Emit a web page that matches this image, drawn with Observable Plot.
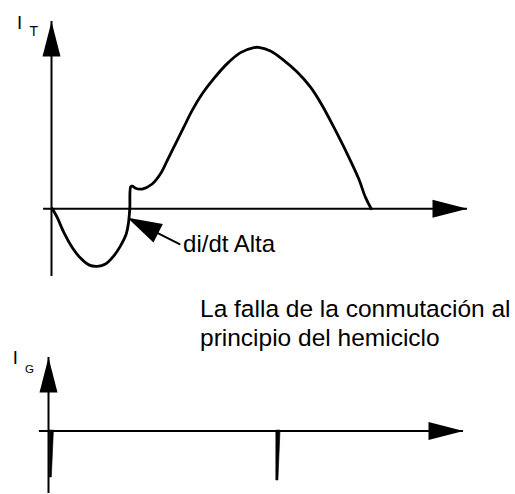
<!DOCTYPE html>
<html>
<head>
<meta charset="utf-8">
<script src="https://cdn.jsdelivr.net/npm/d3@7"></script>
<script src="https://cdn.jsdelivr.net/npm/@observablehq/plot@0.6"></script>
<style>
  html, body { margin: 0; padding: 0; background: #fff; }
  #chart { width: 515px; height: 494px; }
  #chart svg { display: block; }
</style>
</head>
<body>
<div id="chart"></div>
<script>
// Main terminal current I_T over the cycle: time in arbitrary units, current normalised to the peak.
const tT = [0.02, 0.137, 0.296, 0.498, 0.697, 0.897, 1.099, 1.298, 1.498, 1.659, 1.796, 1.851,
            1.882, 1.906, 1.947, 2.019, 2.180, 2.421, 2.620, 2.781, 2.981, 3.180, 3.382, 3.623,
            3.901, 4.224, 4.543, 4.863, 4.976, 5.264, 5.584, 5.906, 6.226, 6.507, 6.786, 7.108,
            7.387, 7.548, 7.685];
const iT = [0, -0.054, -0.147, -0.240, -0.306, -0.348, -0.357, -0.343, -0.292, -0.230, -0.157, -0.087,
            0.002, 0.137, 0.140, 0.127, 0.122, 0.153, 0.216, 0.298, 0.402, 0.505, 0.609, 0.712,
            0.806, 0.899, 0.967, 0.998, 1.000, 0.977, 0.919, 0.847, 0.753, 0.640, 0.505, 0.340,
            0.184, 0.070, 0];

// Gate current I_G: two short negative pulses.
const gateT = [0.03, 5.49];
const gateI = [-0.93, -0.99];

// Axis extents (the far end of each axis carries the arrowhead).
const topTimeAxis = [-0.19, 10];
const topCurrentAxis = [-0.42, 1.16];
const gateTimeAxis = [-0.22, 10];
const gateCurrentAxis = [-1.25, 1.47];

// Text
const topLabel = ["I", "T"];
const gateLabel = ["I", "G"];
const pointerLabel = "di/dt Alta";
const pointerAt = [1.9, -0.065];
const caption = ["La falla de la conmutación al", "principio del hemiciclo"];

const font = "'Liberation Sans', Arial, Helvetica, sans-serif";

// Filled arrowhead: tip at (0,-l), base of half-width w at the origin.
const headShape = (w) => ({
  draw(ctx, l) {
    ctx.moveTo(0, -l);
    ctx.lineTo(w, 0);
    ctx.lineTo(-w, 0);
    ctx.closePath();
  }
});
// Pointer arrow: straight shaft ending in a filled head of length h.
const pointerShape = (w, h) => ({
  draw(ctx, l) {
    ctx.moveTo(0, 0);
    ctx.lineTo(0, -l + h);
    ctx.moveTo(0, -l);
    ctx.lineTo(w, -l + h);
    ctx.lineTo(-w, -l + h);
    ctx.closePath();
  }
});

const axisHead = (x, y, rotate) =>
  Plot.vector([[x, y]], {
    x: (d) => d[0], y: (d) => d[1], rotate, length: 35, anchor: "end",
    shape: headShape(9), fill: "black", stroke: "none"
  });

const label = (txt, dx, dy, fontSize) =>
  Plot.text([txt], {
    text: (d) => d, frameAnchor: "top-left", dx, dy, fontSize,
    textAnchor: "start", lineAnchor: "bottom", fill: "black"
  });

const curve = tT.map((t, k) => ({t, i: iT[k]}));

const topChart = Plot.plot({
  width: 515,
  height: 290,
  marginLeft: 51,
  marginRight: 48,
  marginTop: 21,
  marginBottom: 14,
  x: {domain: [0, 10], axis: null},
  y: {domain: [topCurrentAxis[0], topCurrentAxis[1]], axis: null},
  style: {fontFamily: font, background: "white", overflow: "visible", color: "black"},
  marks: [
    Plot.ruleY([0], {x1: () => topTimeAxis[0], x2: () => topTimeAxis[1], stroke: "black", strokeWidth: 2}),
    Plot.ruleX([0], {y1: () => topCurrentAxis[0], y2: () => topCurrentAxis[1], stroke: "black", strokeWidth: 2}),
    axisHead(0, topCurrentAxis[1], 0),
    axisHead(topTimeAxis[1], 0, 90),
    Plot.line(curve, {x: "t", y: "i", curve: "catmull-rom", stroke: "black", strokeWidth: 2.8}),
    Plot.vector([pointerAt], {
      x: (d) => d[0], y: (d) => d[1], rotate: -63, length: 55, anchor: "end",
      shape: pointerShape(9, 30), fill: "black", stroke: "black", strokeWidth: 2, strokeLinejoin: "miter"
    }),
    Plot.text([pointerLabel], {
      x: () => pointerAt[0], y: () => pointerAt[1], text: (d) => d,
      dx: 52.5, dy: 33.2, textAnchor: "start", lineAnchor: "bottom", fontSize: 24, fill: "black"
    }),
    label(topLabel[0], -34.5, 7.3, 18.5),
    label(topLabel[1], -22, 14, 14)
  ]
});

// Gate pulses as slim tapered bars hanging below the axis.
const pulseTop = 0.1, pulseTip = 0.05;
const pulses = gateT.flatMap((t, k) => [
  {k, t, i: 0, w: pulseTop},
  {k, t, i: gateI[k], w: pulseTip}
]);

const gateChart = Plot.plot({
  width: 515,
  height: 204,
  marginLeft: 48,
  marginRight: 52,
  marginTop: 67,
  marginBottom: 1,
  x: {domain: [0, 10], axis: null},
  y: {domain: [gateCurrentAxis[0], gateCurrentAxis[1]], axis: null},
  style: {fontFamily: font, background: "white", overflow: "visible", color: "black"},
  marks: [
    Plot.ruleY([0], {x1: () => gateTimeAxis[0], x2: () => gateTimeAxis[1], stroke: "black", strokeWidth: 2}),
    Plot.ruleX([0], {y1: () => gateCurrentAxis[0], y2: () => gateCurrentAxis[1], stroke: "black", strokeWidth: 2}),
    axisHead(0, gateCurrentAxis[1], 0),
    axisHead(gateTimeAxis[1], 0, 90),
    Plot.areaX(pulses, {y: "i", x1: "t", x2: (d) => d.t + d.w, z: "k", curve: "linear", fill: "black", stroke: "black", strokeWidth: 0.6}),
    label(gateLabel[0], -35.7, 6.3, 18.5),
    label(gateLabel[1], -23.5, 15.3, 11.5),
    Plot.text([caption.join("\n")], {
      text: (d) => d, frameAnchor: "top-left", dx: 151.5, dy: -12,
      textAnchor: "start", lineAnchor: "bottom", lineHeight: 1.18, fontSize: 24.5, fill: "black"
    })
  ]
});

const root = document.getElementById("chart");
root.append(topChart, gateChart);
</script>
</body>
</html>
